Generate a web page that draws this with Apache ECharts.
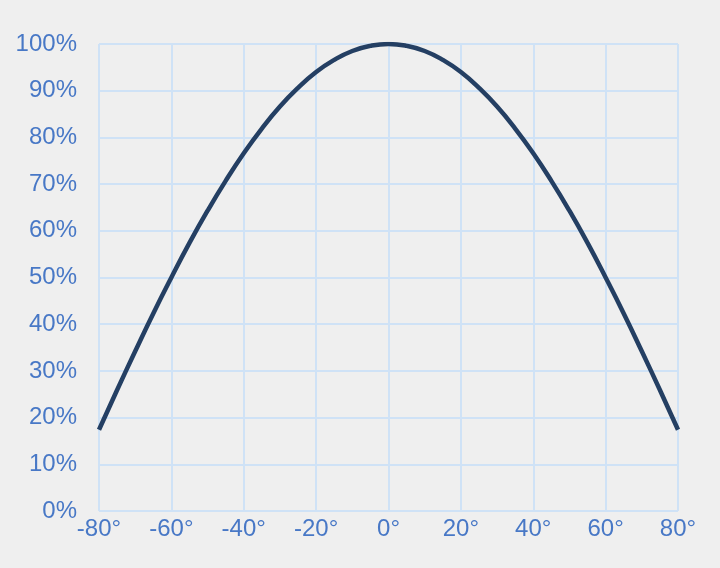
<!DOCTYPE html>
<html><head><meta charset="utf-8">
<script src="https://cdn.jsdelivr.net/npm/echarts@6/dist/echarts.min.js"></script>
<style>html,body{margin:0;padding:0;background:#efefef}#c{width:720px;height:568px}</style>
</head><body><div id="c"></div>
<script>
const angles = [-80,-75,-70,-65,-60,-55,-50,-45,-40,-35,-30,-25,-20,-15,-10,-5,0,5,10,15,20,25,30,35,40,45,50,55,60,65,70,75,80];
const values = [0.174,0.259,0.342,0.423,0.500,0.574,0.643,0.707,0.766,0.819,0.866,0.906,0.940,0.966,0.985,0.996,1.000,0.996,0.985,0.966,0.940,0.906,0.866,0.819,0.766,0.707,0.643,0.574,0.500,0.423,0.342,0.259,0.174];
const chart = echarts.init(document.getElementById('c'));
const labelColor = '#4878c6';
const gridColor = '#cfe2f6';
chart.setOption({
  backgroundColor: '#efefef',
  animation: false,
  grid: {left: 99, right: 42, top: 44, bottom: 57},
  xAxis: {
    type: 'value', min: -80, max: 80, interval: 20,
    axisLine: {show: false}, axisTick: {show: false},
    splitLine: {show: true, lineStyle: {color: gridColor, width: 2}},
    axisLabel: {color: labelColor, fontSize: 24, fontFamily: 'Liberation Sans, Arial', margin: 6, formatter: v => v + '°'}
  },
  yAxis: {
    type: 'value', min: 0, max: 1, interval: 0.1,
    axisLine: {show: false}, axisTick: {show: false},
    splitLine: {show: true, lineStyle: {color: gridColor, width: 2}},
    axisLabel: {color: labelColor, fontSize: 24, fontFamily: 'Liberation Sans, Arial', margin: 22, padding: [2, 0, 0, 0], formatter: v => Math.round(v * 100) + '%'}
  },
  series: [{
    type: 'line', smooth: true, showSymbol: false,
    data: angles.map((a, i) => [a, values[i]]),
    lineStyle: {color: '#243f63', width: 4.5}
  }]
});
</script></body></html>
